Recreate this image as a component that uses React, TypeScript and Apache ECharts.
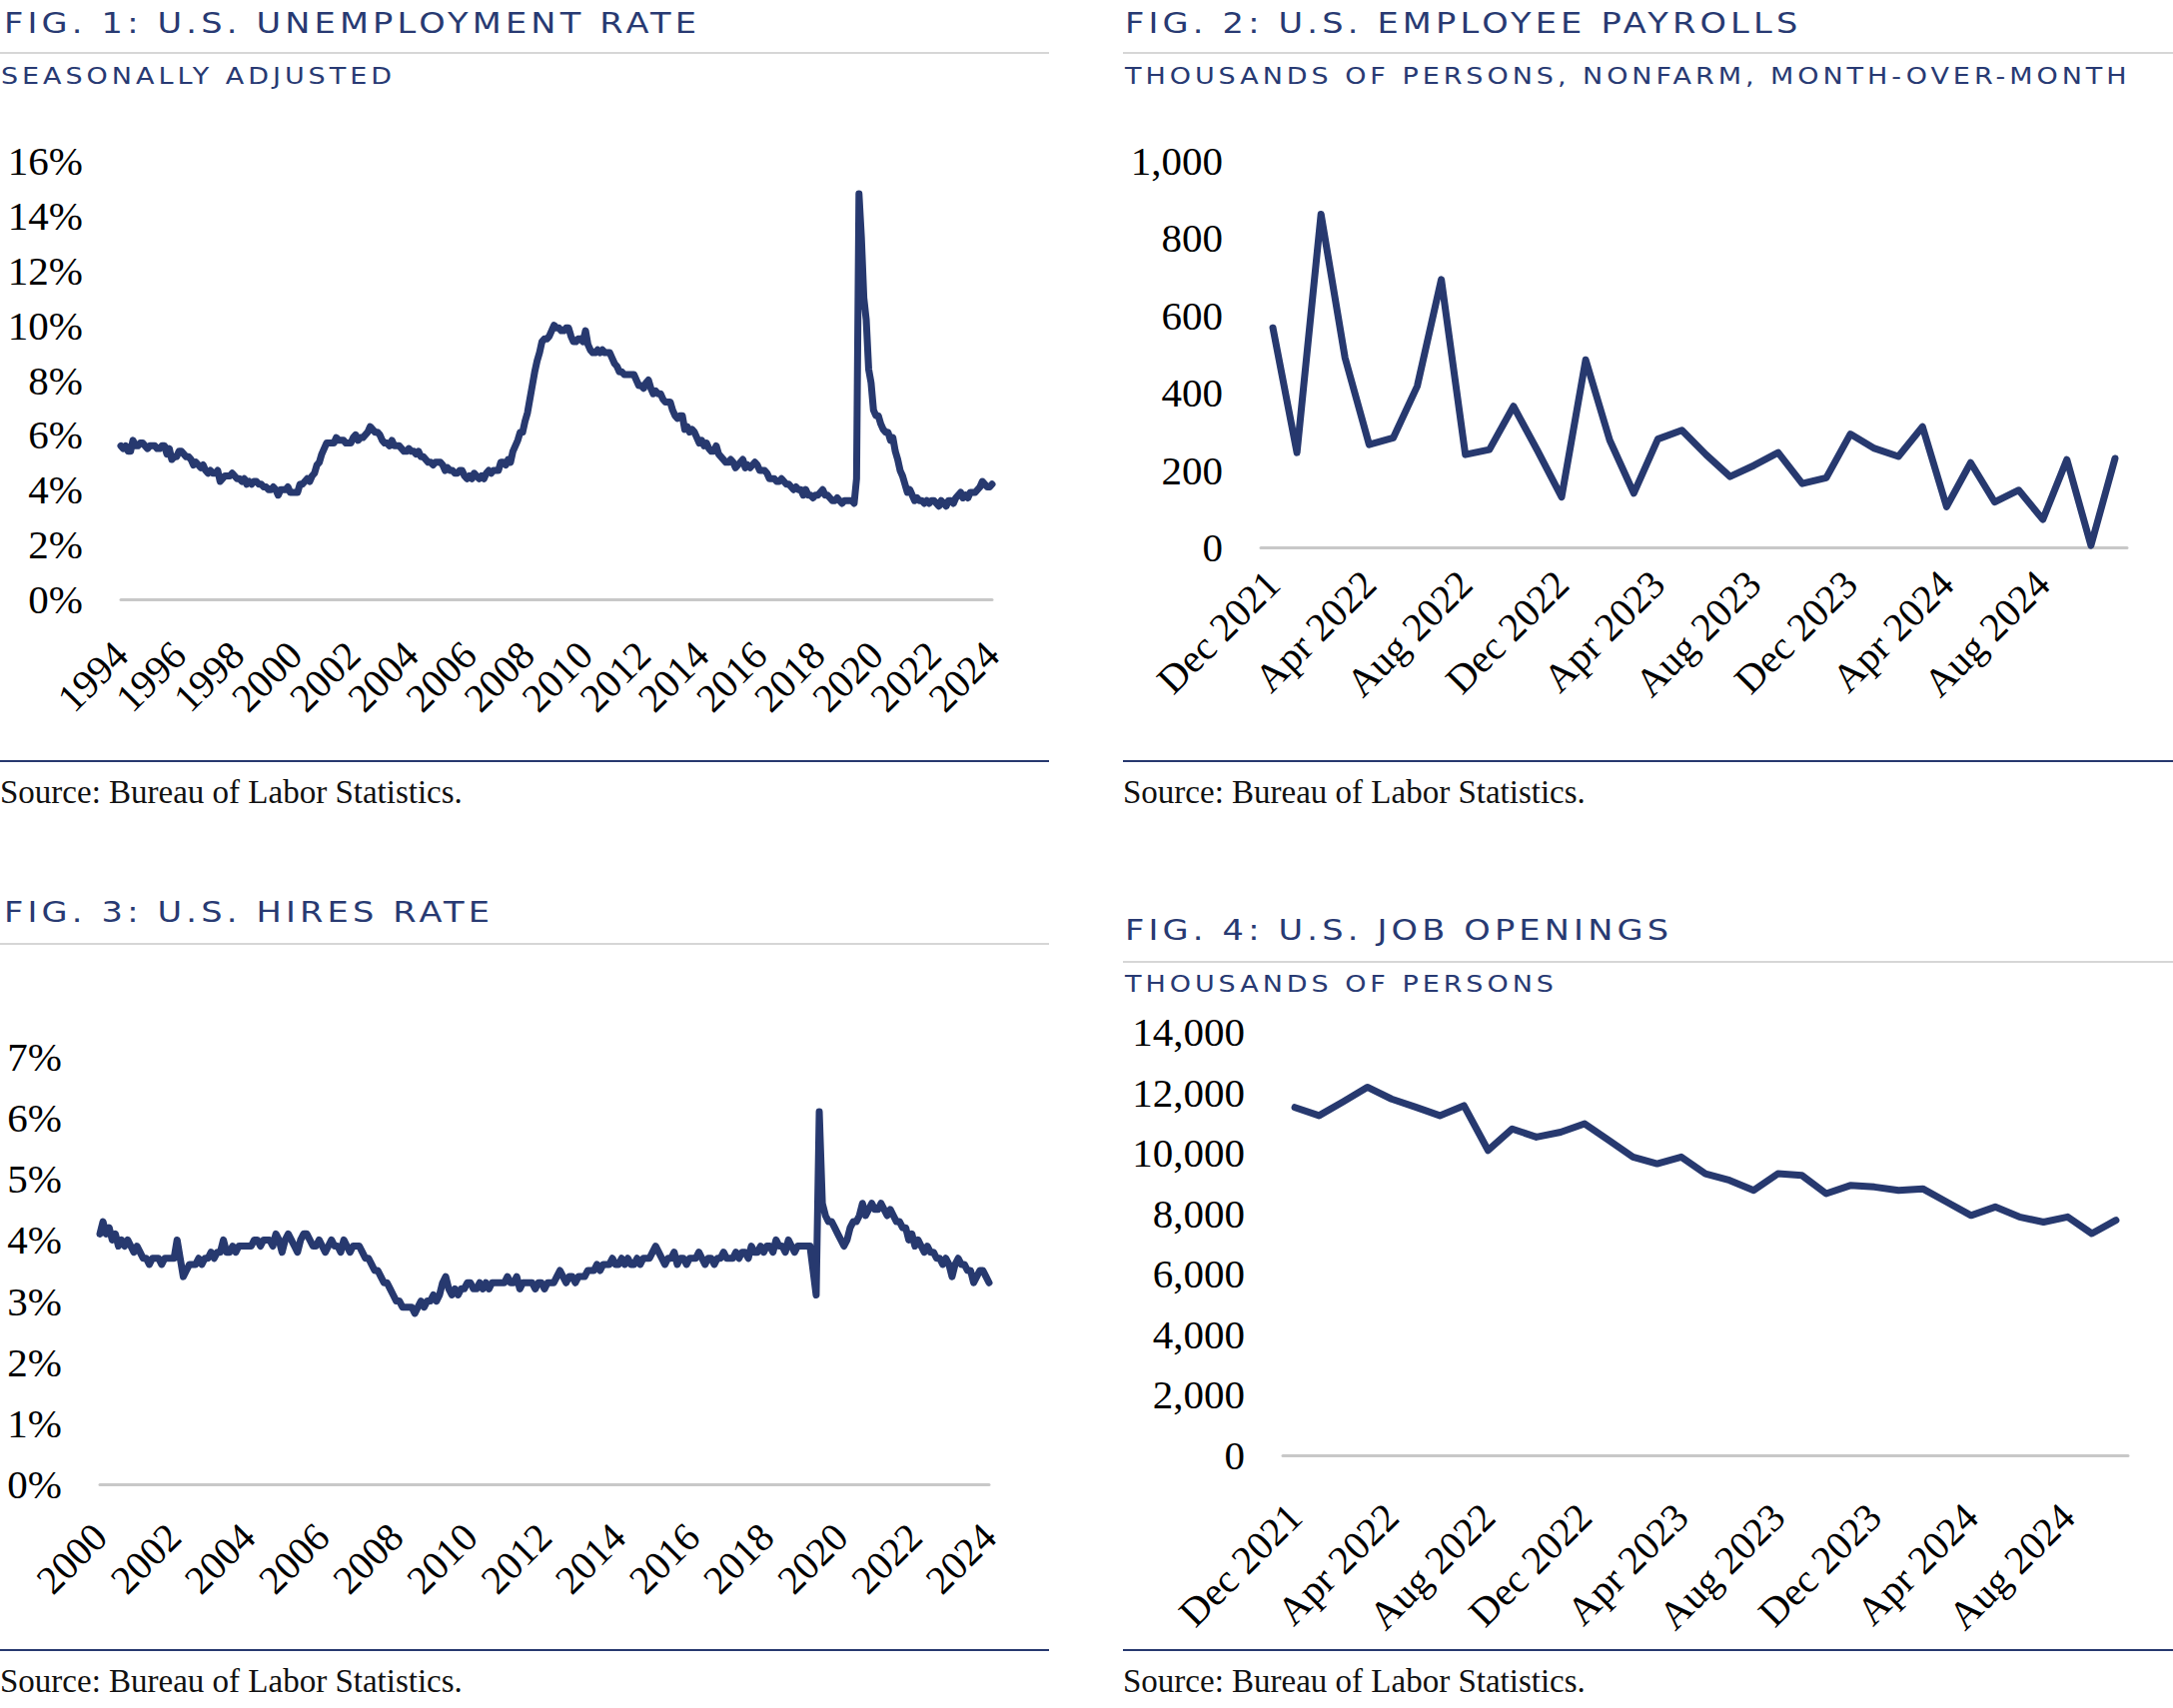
import React, { useEffect, useRef } from 'react';
import * as echarts from 'echarts';

// ---------- DATA ----------
const MONTH_NAMES = ['Jan', 'Feb', 'Mar', 'Apr', 'May', 'Jun', 'Jul', 'Aug', 'Sep', 'Oct', 'Nov', 'Dec'];

// Fig 1: unemployment rate (%), monthly, Nov 1994 - Nov 2024
const unemp1990s = [
  5.6, 5.5,
  5.6, 5.4, 5.4, 5.8, 5.6, 5.6, 5.7, 5.7, 5.6, 5.5, 5.6, 5.6,
  5.6, 5.5, 5.5, 5.6, 5.6, 5.3, 5.5, 5.1, 5.2, 5.2, 5.4, 5.4,
  5.3, 5.2, 5.2, 5.1, 4.9, 5.0, 4.9, 4.8, 4.9, 4.7, 4.6, 4.7,
  4.6, 4.6, 4.7, 4.3, 4.4, 4.5, 4.5, 4.5, 4.6, 4.5, 4.4, 4.4,
  4.3, 4.4, 4.2, 4.3, 4.2, 4.3, 4.3, 4.2, 4.2, 4.1, 4.1, 4.0,
];
const unemp2000s = [
  4.0, 4.1, 4.0, 3.8, 4.0, 4.0, 4.0, 4.1, 3.9, 3.9, 3.9, 3.9,
  4.2, 4.2, 4.3, 4.4, 4.3, 4.5, 4.6, 4.9, 5.0, 5.3, 5.5, 5.7,
  5.7, 5.7, 5.7, 5.9, 5.8, 5.8, 5.8, 5.7, 5.7, 5.7, 5.9, 6.0,
  5.8, 5.9, 5.9, 6.0, 6.1, 6.3, 6.2, 6.1, 6.1, 6.0, 5.8, 5.7,
  5.7, 5.6, 5.8, 5.6, 5.6, 5.6, 5.5, 5.4, 5.4, 5.5, 5.4, 5.4,
  5.3, 5.4, 5.2, 5.2, 5.1, 5.0, 5.0, 4.9, 5.0, 5.0, 5.0, 4.9,
  4.7, 4.8, 4.7, 4.7, 4.6, 4.6, 4.7, 4.7, 4.5, 4.4, 4.5, 4.4,
  4.6, 4.5, 4.4, 4.5, 4.4, 4.6, 4.7, 4.6, 4.7, 4.7, 4.7, 5.0,
  5.0, 4.9, 5.1, 5.0, 5.4, 5.6, 5.8, 6.1, 6.1, 6.5, 6.8, 7.3,
  7.8, 8.3, 8.7, 9.0, 9.4, 9.5, 9.5, 9.6, 9.8, 10.0, 9.9, 9.9,
];
const unemp2010s = [
  9.8, 9.8, 9.9, 9.9, 9.6, 9.4, 9.4, 9.5, 9.5, 9.4, 9.8, 9.3,
  9.1, 9.0, 9.0, 9.1, 9.0, 9.1, 9.0, 9.0, 9.0, 8.8, 8.6, 8.5,
  8.3, 8.3, 8.2, 8.2, 8.2, 8.2, 8.2, 8.0, 7.8, 7.8, 7.7, 7.9,
  8.0, 7.7, 7.5, 7.6, 7.5, 7.5, 7.3, 7.2, 7.2, 7.2, 6.9, 6.7,
  6.6, 6.7, 6.7, 6.2, 6.3, 6.1, 6.2, 6.1, 5.9, 5.7, 5.8, 5.6,
  5.7, 5.5, 5.4, 5.4, 5.6, 5.3, 5.2, 5.1, 5.0, 5.0, 5.1, 5.0,
  4.8, 4.9, 5.0, 5.1, 4.8, 4.9, 4.8, 4.9, 5.0, 4.9, 4.7, 4.7,
  4.7, 4.6, 4.4, 4.4, 4.4, 4.3, 4.3, 4.4, 4.3, 4.2, 4.2, 4.1,
  4.0, 4.1, 4.0, 4.0, 3.8, 4.0, 3.8, 3.8, 3.7, 3.8, 3.8, 3.9,
  4.0, 3.8, 3.8, 3.7, 3.6, 3.6, 3.7, 3.6, 3.5, 3.6, 3.6, 3.6,
];
const unemp2020s = [
  3.6, 3.5, 4.4, 14.8, 13.2, 11.0, 10.2, 8.4, 7.9, 6.9, 6.7, 6.7,
  6.4, 6.2, 6.1, 6.1, 5.8, 5.9, 5.4, 5.1, 4.7, 4.5, 4.2, 3.9,
  4.0, 3.8, 3.6, 3.7, 3.6, 3.6, 3.5, 3.6, 3.5, 3.6, 3.6, 3.5,
  3.4, 3.6, 3.5, 3.4, 3.6, 3.6, 3.5, 3.7, 3.8, 3.9, 3.7, 3.8,
  3.7, 3.9, 3.9, 3.9, 4.0, 4.1, 4.3, 4.2, 4.1, 4.1, 4.2,
];

// Fig 2: nonfarm payroll change (thousands), Dec 2021 - Nov 2024
const payrolls = [
  568, 245, 862, 490, 266, 283, 417, 693, 240, 253, 365, 250,
  130, 485, 277, 140, 280, 303, 240, 183, 212, 245, 165, 180,
  293, 256, 235, 312, 105, 219, 117, 148, 72, 227, 5, 230,
];

// Fig 3: hires rate (%), monthly, Dec 2000 - Dec 2024
const hires2000s = [
  4.1,
  4.3, 4.1, 4.2, 4.0, 4.1, 3.9, 4.0, 3.9, 4.0, 3.9, 3.8, 3.9,
  3.8, 3.7, 3.7, 3.6, 3.7, 3.7, 3.7, 3.6, 3.7, 3.7, 3.7, 3.7,
  4.0, 3.7, 3.4, 3.5, 3.6, 3.6, 3.6, 3.7, 3.6, 3.7, 3.7, 3.8,
  3.7, 3.8, 3.8, 4.0, 3.8, 3.8, 3.9, 3.8, 3.9, 3.9, 3.9, 3.9,
  3.9, 4.0, 4.0, 3.9, 4.0, 4.0, 4.0, 3.9, 4.1, 4.0, 3.8, 4.0,
  4.1, 4.0, 3.9, 3.8, 4.0, 4.1, 4.1, 4.0, 3.9, 3.9, 4.0, 3.9,
  3.8, 3.9, 4.0, 3.9, 3.9, 3.8, 4.0, 3.9, 3.8, 3.9, 3.9, 3.9,
  3.8, 3.7, 3.7, 3.6, 3.5, 3.5, 3.4, 3.3, 3.3, 3.2, 3.1, 3.0,
  3.0, 2.9, 2.9, 2.9, 2.9, 2.8, 2.9, 3.0, 2.9, 3.0, 3.0, 3.1,
];
const hires2010s = [
  3.0, 3.1, 3.3, 3.4, 3.2, 3.1, 3.2, 3.1, 3.2, 3.2, 3.3, 3.3,
  3.2, 3.2, 3.3, 3.2, 3.3, 3.2, 3.3, 3.3, 3.3, 3.3, 3.3, 3.4,
  3.3, 3.3, 3.4, 3.2, 3.3, 3.3, 3.3, 3.3, 3.2, 3.3, 3.3, 3.2,
  3.3, 3.3, 3.3, 3.4, 3.5, 3.4, 3.3, 3.4, 3.4, 3.3, 3.4, 3.4,
  3.4, 3.5, 3.5, 3.5, 3.6, 3.5, 3.6, 3.6, 3.6, 3.7, 3.6, 3.6,
  3.7, 3.6, 3.7, 3.6, 3.6, 3.7, 3.6, 3.7, 3.7, 3.7, 3.8, 3.9,
  3.8, 3.7, 3.6, 3.7, 3.7, 3.8, 3.6, 3.7, 3.7, 3.6, 3.7, 3.7,
  3.7, 3.8, 3.7, 3.6, 3.7, 3.7, 3.6, 3.7, 3.7, 3.8, 3.7, 3.7,
  3.7, 3.8, 3.7, 3.8, 3.8, 3.7, 3.9, 3.8, 3.8, 3.9, 3.8, 3.9,
  3.9, 3.8, 4.0, 3.9, 3.9, 3.8, 4.0, 3.9, 3.8, 3.9, 3.9, 3.9,
];
const hires2020s = [
  3.9, 3.9, 3.5, 3.1, 6.1, 4.6, 4.4, 4.3, 4.3, 4.2, 4.1, 4.0,
  3.9, 4.0, 4.2, 4.3, 4.3, 4.4, 4.6, 4.4, 4.5, 4.6, 4.5, 4.5,
  4.6, 4.5, 4.4, 4.5, 4.4, 4.3, 4.3, 4.2, 4.2, 4.0, 4.1, 3.9,
  4.0, 3.9, 3.8, 3.9, 3.8, 3.8, 3.7, 3.7, 3.6, 3.7, 3.6, 3.4,
  3.6, 3.7, 3.6, 3.6, 3.5, 3.5, 3.3, 3.4, 3.5, 3.5, 3.4, 3.3,
];

// Fig 4: job openings (thousands), Dec 2021 - Oct 2024
const openings = [
  11500, 11230, 11690, 12170, 11780, 11510, 11230, 11560, 10080, 10790, 10520, 10680,
  10960, 10410, 9860, 9640, 9860, 9310, 9090, 8760, 9310, 9250, 8650, 8920,
  8870, 8760, 8810, 8370, 7930, 8210, 7880, 7710, 7880, 7330, 7770,
];

// tick labels
const unempTicks = [0, 2, 4, 6, 8, 10, 12, 14, 16];
const payrollTicks = [0, 200, 400, 600, 800, 1000];
const hiresTicks = [0, 1, 2, 3, 4, 5, 6, 7];
const openingsTicks = [0, 2000, 4000, 6000, 8000, 10000, 12000, 14000];

// texts
const TITLES = [
  'FIG. 1: U.S. UNEMPLOYMENT RATE',
  'FIG. 2: U.S. EMPLOYEE PAYROLLS',
  'FIG. 3: U.S. HIRES RATE',
  'FIG. 4: U.S. JOB OPENINGS',
];
const SUBTITLES = [
  'SEASONALLY ADJUSTED',
  'THOUSANDS OF PERSONS, NONFARM, MONTH-OVER-MONTH',
  'THOUSANDS OF PERSONS',
];
const SOURCE = 'Source: Bureau of Labor Statistics.';

// ---------- helpers ----------
function monthSeq(startYear: number, startMonth: number, count: number, iso: boolean): string[] {
  const out: string[] = [];
  let y = startYear;
  let m = startMonth; // 0-based
  for (let i = 0; i < count; i++) {
    out.push(iso ? `${y}-${String(m + 1).padStart(2, '0')}` : `${MONTH_NAMES[m]} ${y}`);
    m++;
    if (m === 12) { m = 0; y++; }
  }
  return out;
}

const unempData = [...unemp1990s, ...unemp2000s, ...unemp2010s, ...unemp2020s];
const hiresData = [...hires2000s, ...hires2010s, ...hires2020s];
const unempCats = monthSeq(1994, 10, unempData.length, true);
const payrollCats = monthSeq(2021, 11, payrolls.length, false);
const hiresCats = monthSeq(2000, 11, hiresData.length, true);
const openingsCats = monthSeq(2021, 11, openings.length, false);

// ---------- styles ----------
const W = 2175;
const H = 1710;
const NAVY = '#27396f';
const TITLE_FILL = '#283a72';
const SUB_FILL = '#283a73';
const SANS = 'DejaVu Sans';
const SERIF = 'Liberation Serif';
const GRAY = '#c8c8c8';
const WIDEN = 1.2;

const tickFont = { fontFamily: SERIF, fontSize: 41, color: '#000' };
const xFont = { fontFamily: SERIF, fontSize: 40, color: '#000' };

function yAxis(gridIndex: number, ticks: number[], fmt: (v: number) => string) {
  return {
    type: 'value',
    gridIndex,
    min: ticks[0],
    max: ticks[ticks.length - 1],
    interval: ticks[1] - ticks[0],
    axisLine: { show: false },
    axisTick: { show: false },
    splitLine: { show: false },
    axisLabel: { ...tickFont, margin: 38, formatter: fmt },
  };
}

function xAxis(gridIndex: number, data: string[], boundaryGap: boolean, interval: number, margin: number, fmt: (v: string) => string) {
  return {
    type: 'category',
    gridIndex,
    data,
    boundaryGap,
    axisLine: { show: true, lineStyle: { color: GRAY, width: 3 } },
    axisTick: { show: false },
    splitLine: { show: false },
    axisLabel: { ...xFont, rotate: 45, interval, margin, formatter: fmt },
  };
}

function lineSeries(idx: number, data: number[], width: number) {
  return {
    type: 'line',
    xAxisIndex: idx,
    yAxisIndex: idx,
    data,
    showSymbol: false,
    symbol: 'none',
    lineStyle: { color: NAVY, width, cap: 'round', join: 'round' },
    z: 3,
  };
}

function txt(text: string, x: number, y: number, fontFamily: string, fontSize: number, fill: string, scaleX = 1) {
  return {
    type: 'text',
    x,
    y,
    scaleX,
    silent: true,
    style: { text, fontFamily, fontSize, fill, align: 'left', verticalAlign: 'middle' },
  };
}

function rule(x1: number, x2: number, y: number, stroke: string, lineWidth: number) {
  return {
    type: 'line',
    silent: true,
    shape: { x1, y1: y, x2, y2: y },
    style: { stroke, lineWidth },
  };
}

const pct = (v: number) => `${v}%`;
const thousands = (v: number) => v.toLocaleString('en-US');
const yearOnly = (v: string) => v.slice(0, 4);
const asIs = (v: string) => v;

export default function App() {
  const ref = useRef<HTMLDivElement>(null);

  useEffect(() => {
    if (!ref.current) return;
    const chart = echarts.init(ref.current, undefined, { renderer: 'svg', width: W, height: H });
    const option = {
      animation: false,
      backgroundColor: '#ffffff',
      grid: [
        { left: 121, top: 161, width: 872, height: 439 },
        { left: 1262, top: 161, width: 867, height: 387 },
        { left: 100, top: 1058, width: 890, height: 428 },
        { left: 1284, top: 1033, width: 846, height: 424 },
      ],
      xAxis: [
        xAxis(0, unempCats, false, 23, 49, yearOnly),
        xAxis(1, payrollCats, true, 3, 30, asIs),
        xAxis(2, hiresCats, false, 23, 46, yearOnly),
        xAxis(3, openingsCats, true, 3, 55, asIs),
      ],
      yAxis: [
        yAxis(0, unempTicks, pct),
        yAxis(1, payrollTicks, thousands),
        yAxis(2, hiresTicks, pct),
        yAxis(3, openingsTicks, thousands),
      ],
      series: [
        lineSeries(0, unempData, 7),
        lineSeries(1, payrolls, 7),
        lineSeries(2, hiresData, 7),
        lineSeries(3, openings, 7),
      ],
      graphic: [
        // titles
        txt(TITLES[0], 4, 23, SANS, 28, TITLE_FILL, WIDEN),
        txt(TITLES[1], 1126, 23, SANS, 28, TITLE_FILL, WIDEN),
        txt(TITLES[2], 4, 913, SANS, 28, TITLE_FILL, WIDEN),
        txt(TITLES[3], 1126, 931, SANS, 28, TITLE_FILL, WIDEN),
        // gray rules under titles
        rule(0, 1050, 53, GRAY, 1.5),
        rule(1124, 2175, 53, GRAY, 1.5),
        rule(0, 1050, 945, GRAY, 1.5),
        rule(1124, 2175, 963, GRAY, 1.5),
        // subtitles
        txt(SUBTITLES[0], 1, 76, SANS, 22.5, SUB_FILL, WIDEN),
        txt(SUBTITLES[1], 1126, 76, SANS, 22.5, SUB_FILL, WIDEN),
        txt(SUBTITLES[2], 1126, 985, SANS, 22.5, SUB_FILL, WIDEN),
        // navy rules above sources
        rule(0, 1050, 762, NAVY, 2),
        rule(1124, 2175, 762, NAVY, 2),
        rule(0, 1050, 1652, NAVY, 2),
        rule(1124, 2175, 1652, NAVY, 2),
        // sources
        txt(SOURCE, 0, 793, SERIF, 33, '#111111'),
        txt(SOURCE, 1124, 793, SERIF, 33, '#111111'),
        txt(SOURCE, 0, 1683, SERIF, 33, '#111111'),
        txt(SOURCE, 1124, 1683, SERIF, 33, '#111111'),
      ],
    };
    chart.setOption(option as any);
    return () => chart.dispose();
  }, []);

  const css = `body{margin:0;background:#fff}
.chartbox text[fill="${TITLE_FILL}"]{letter-spacing:3.5px}
.chartbox text[fill="${SUB_FILL}"]{letter-spacing:3.3px}`;

  return (
    <>
      <style>{css}</style>
      <div className="chartbox" ref={ref} style={{ width: W, height: H }} />
    </>
  );
}
